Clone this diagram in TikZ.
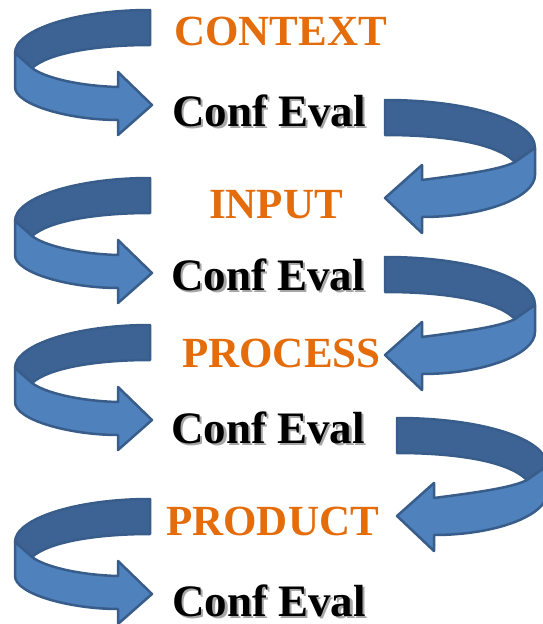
\documentclass[tikz,border=0pt]{standalone}
\usepackage{fontspec}
\setmainfont{Liberation Serif}
\definecolor{bandlight}{HTML}{4F81BD}
\definecolor{banddark}{HTML}{3D6395}
\definecolor{bandline}{HTML}{385D8A}
\definecolor{stageorange}{HTML}{E46C0A}
\newcommand{\shadowtext}[1]{\makebox[0pt][l]{\hspace{2.5pt}\raisebox{-2.5pt}{\textcolor{black!35}{#1}}}#1}
\begin{document}
\begin{tikzpicture}[x=1pt,y=-1pt,
  dark/.style={fill=banddark,draw=bandline,line width=2.5pt,line join=round},
  light/.style={fill=bandlight,draw=bandline,line width=2.5pt,line join=round},
  stage/.style={text=stageorange,font=\fontsize{43}{43}\selectfont\bfseries,inner sep=0pt,anchor=base west},
  evaltext/.style={font=\fontsize{45}{45}\selectfont\bfseries,inner sep=0pt,anchor=base west},
  leftturn/.pic={
    \draw[dark] (150,0) .. controls (75,0) and (15,20) .. (15,43) -- (32,58)
      .. controls (50,42) and (100,35) .. (150,35) -- cycle;
    \draw[light] (15,43) -- (15,77) .. controls (15,95) and (70,110) .. (118,110)
      -- (118,125) -- (152,95) -- (118,62) -- (118,77)
      .. controls (80,76) and (45,68) .. (32,58) -- cycle;
  },
  rightturn/.pic={
    \draw[dark] (385,0) .. controls (468,0) and (535,20) .. (535,48) -- (515,62)
      .. controls (495,42) and (440,35) .. (385,35) -- cycle;
    \draw[light] (535,48) -- (535,75) .. controls (535,97) and (485,117) .. (422,117)
      -- (422,133) -- (385,98) -- (422,65) -- (422,80)
      .. controls (460,75) and (500,70) .. (515,62) -- cycle;
  }]
\useasboundingbox (0,0) rectangle (543,624);
\begin{scope}
\clip (0,0) rectangle (543,624);
% left U-turn arrows
\pic at (0,10) {leftturn};
\pic at (0,178) {leftturn};
\pic at (0,325) {leftturn};
\pic at (0,499) {leftturn};
% right U-turn arrows
\pic at (0,100) {rightturn};
\pic at (0,257) {rightturn};
\pic at (12,418) {rightturn};
\end{scope}
% stage labels
\node[stage] (context) at (174,45) {CONTEXT};
\node[stage] (input) at (209,218) {INPUT};
\node[stage] (process) at (182,367) {PROCESS};
\node[stage] (product) at (166,535) {PRODUCT};
% evaluation labels with shadow
\node[evaltext] (ce1) at (172,126) {\shadowtext{Conf Eval}};
\node[evaltext] (ce2) at (171,290) {\shadowtext{Conf Eval}};
\node[evaltext] (ce3) at (171,443) {\shadowtext{Conf Eval}};
\node[evaltext] (ce4) at (172,616) {\shadowtext{Conf Eval}};
\end{tikzpicture}
\end{document}
